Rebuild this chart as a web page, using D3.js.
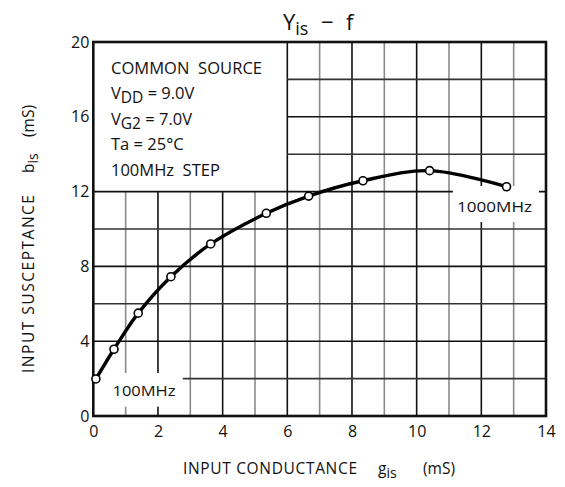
<!DOCTYPE html>
<html><head><meta charset="utf-8">
<script src="https://cdn.jsdelivr.net/npm/d3@7"></script>
<style>
body{margin:0;background:#fff;}
text{font-family:"Open Sans","Noto Sans",sans-serif;fill:#111;white-space:pre;}
</style></head>
<body>
<svg id="c" width="565" height="487"></svg>
<script>
// Data, frequency 100MHz..1000MHz in 100MHz steps
const freqMHz = [100, 200, 300, 400, 500, 600, 700, 800, 900, 1000];
const gis = [0.08, 0.64, 1.39, 2.40, 3.63, 5.35, 6.66, 8.34, 10.40, 12.78];
const bis = [1.98, 3.57, 5.50, 7.45, 9.20, 10.84, 11.76, 12.58, 13.12, 12.26];
const xTicks = [0, 2, 4, 6, 8, 10, 12, 14];
const yTicks = [0, 4, 8, 12, 16, 20];
const legendLines = ["COMMON  SOURCE", "V|DD| = 9.0V", "V|G2| = 7.0V", "Ta = 25°C", "100MHz  STEP"];

const svg = d3.select("#c");
const x = d3.scaleLinear().domain([0, 14]).range([93.3, 546]);
const y = d3.scaleLinear().domain([0, 20]).range([416, 42]);

const g = svg.append("g");

// grid: vertical every 1 mS, horizontal every 2 mS; legend region (x<6, y>12) left blank
const vx = d3.range(1, 14);
g.selectAll("line.v").data(vx).join("line")
  .attr("x1", d => x(d)).attr("x2", d => x(d))
  .attr("y1", y(0)).attr("y2", d => d < 6 ? y(12) : y(20))
  .attr("stroke", d => d % 2 === 0 ? "#111" : "#8a8a8a")
  .attr("stroke-width", 1.6);
const hy = d3.range(2, 20, 2);
g.selectAll("line.h").data(hy).join("line")
  .attr("y1", d => y(d)).attr("y2", d => y(d))
  .attr("x1", d => d > 12 ? x(6) : x(0)).attr("x2", x(14))
  .attr("stroke", d => d % 4 === 0 ? "#111" : "#333")
  .attr("stroke-width", 1.6);

// label boxes mask the grid
const boxes = [
  {x0: 0.02, x1: 2.77, y0: 0.5, y1: 2.3},
  {x0: 11.12, x1: 13.78, y0: 10.37, y1: 12.3}
];
g.selectAll("rect.box").data(boxes).join("rect")
  .attr("x", d => x(d.x0)).attr("y", d => y(d.y1))
  .attr("width", d => x(d.x1) - x(d.x0)).attr("height", d => y(d.y0) - y(d.y1))
  .attr("fill", "#fff");

// frame
g.append("rect").attr("x", x(0)).attr("y", y(20))
  .attr("width", x(14) - x(0)).attr("height", y(0) - y(20))
  .attr("fill", "none").attr("stroke", "#111").attr("stroke-width", 2.6);

// axes tick labels via d3 axes
const xAxis = g.append("g").attr("transform", `translate(0,${y(0)})`)
  .call(d3.axisBottom(x).tickValues(xTicks).tickSize(0).tickPadding(10).tickFormat(d3.format("d")));
const yAxis = g.append("g").attr("transform", `translate(${x(0)},0)`)
  .call(d3.axisLeft(y).tickValues(yTicks).tickSize(0).tickPadding(4).tickFormat(d3.format("d")));
[xAxis, yAxis].forEach(a => {
  a.select(".domain").remove();
  a.selectAll("text").attr("font-size", 16).attr("fill", "#111")
    .attr("font-family", '"Open Sans","Noto Sans",sans-serif');
});

// curve
const pts = gis.map((v, i) => [v, bis[i]]);
const line = d3.line().x(d => x(d[0])).y(d => y(d[1])).curve(d3.curveCatmullRom.alpha(0.5));
g.append("path").attr("d", line(pts)).attr("fill", "none")
  .attr("stroke", "#000").attr("stroke-width", 3.4).attr("stroke-linejoin", "round");
g.selectAll("circle.p").data(pts).join("circle")
  .attr("cx", d => x(d[0])).attr("cy", d => y(d[1])).attr("r", 4)
  .attr("fill", "#fff").attr("stroke", "#000").attr("stroke-width", 1.6);

// point labels
g.append("text").attr("x", 112.5).attr("y", 396).attr("font-size", 15)
  .attr("textLength", 63).attr("lengthAdjust", "spacingAndGlyphs").text(freqMHz[0] + "MHz");
g.append("text").attr("x", 457).attr("y", 212).attr("font-size", 15)
  .attr("textLength", 75).attr("lengthAdjust", "spacingAndGlyphs").text(freqMHz[freqMHz.length - 1] + "MHz");

// legend
const lg = g.append("g");
legendLines.forEach((s, i) => {
  const t = lg.append("text").attr("x", 111).attr("y", 73.5 + i * 25.5).attr("font-size", 16.5);
  const parts = s.split("|");
  if (parts.length === 1) {
    t.text(s);
    if (i === 0) t.attr("textLength", 151).attr("lengthAdjust", "spacing");
  } else {
    t.append("tspan").text(parts[0]);
    t.append("tspan").attr("dy", 4).attr("font-size", 15.5).text(parts[1]);
    t.append("tspan").attr("dy", -4).text(parts[2]);
  }
});

// title
const tt = svg.append("text").attr("x", 283).attr("y", 30).attr("font-size", 22);
tt.append("tspan").text("Y");
tt.append("tspan").attr("dy", 5).attr("font-size", 18).text("is");
tt.append("tspan").attr("dy", -5).attr("x", 321).text("−");
tt.append("tspan").attr("x", 346).text("f");

// x axis title
const xt = svg.append("text").attr("y", 474).attr("font-size", 15.5);
xt.append("tspan").attr("x", 183).attr("textLength", 174).attr("lengthAdjust", "spacing").text("INPUT CONDUCTANCE");
xt.append("tspan").attr("x", 378).text("g");
xt.append("tspan").attr("dy", 4).attr("font-size", 14).text("is");
xt.append("tspan").attr("dy", -4).attr("x", 423).text("(mS)");

// y axis title
const yt = svg.append("g").attr("transform", "translate(34,0) rotate(-90)")
  .append("text").attr("font-size", 15.5);
yt.append("tspan").attr("x", -373).attr("textLength", 178).attr("lengthAdjust", "spacing").text("INPUT SUSCEPTANCE");
yt.append("tspan").attr("x", -173).text("b");
yt.append("tspan").attr("dy", 4).attr("font-size", 14).text("is");
yt.append("tspan").attr("dy", -4).attr("x", -137).text("(mS)");
</script>
</body></html>
